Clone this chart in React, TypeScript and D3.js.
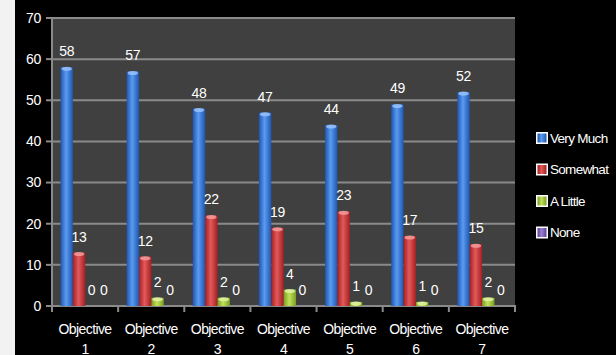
import React from "react";
import { scaleBand, scaleLinear } from "d3";

const categories = ["1", "2", "3", "4", "5", "6", "7"];
const seriesNames = ["Very Much", "Somewhat", "A Little", "None"];
const veryMuch = [58, 57, 48, 47, 44, 49, 52];
const somewhat = [13, 12, 22, 19, 23, 17, 15];
const aLittle = [0, 2, 2, 4, 1, 1, 2];
const none = [0, 0, 0, 0, 0, 0, 0];
const yTicks = [0, 10, 20, 30, 40, 50, 60, 70];

const seriesValues = [veryMuch, somewhat, aLittle, none];
const colors = [
  { edge: "#1d56b0", mid: "#5a9bf0", cap: "#9cc6ff" },
  { edge: "#a51f22", mid: "#e25a5a", cap: "#f7a0a0" },
  { edge: "#7a9e22", mid: "#c2e05c", cap: "#e4f5a8" },
  { edge: "#5e4496", mid: "#9a7ed2", cap: "#c9b8ee" },
];

const W = 616;
const H = 355;
const font = "'Liberation Sans', Arial, sans-serif";

export default function App() {
  const x = scaleBand().domain(categories).range([52, 515]);
  const xi = scaleBand().domain(seriesNames).range([8.5, 58]);
  const y = scaleLinear().domain([0, 70]).range([306, 18]);
  const bw = xi.bandwidth();

  return (
    <svg
      width={W}
      height={H}
      style={{ position: "absolute", left: 0, top: 0 }}
      fontFamily={font}
    >
      <defs>
        {colors.map((c, i) => (
          <linearGradient key={i} id={"g" + i} x1="0" x2="1" y1="0" y2="0">
            <stop offset="0" stopColor={c.edge} />
            <stop offset="0.45" stopColor={c.mid} />
            <stop offset="1" stopColor={c.edge} />
          </linearGradient>
        ))}
      </defs>
      <rect x={0} y={0} width={W} height={H} fill="#000" />
      <rect x={0} y={0} width={15} height={H} fill="#f2f2f2" />
      <rect x={52} y={18} width={463} height={288} fill="#404040" />

      {yTicks.map((t) => (
        <g key={t}>
          {t > 0 && (
            <line x1={52} x2={515} y1={y(t)} y2={y(t)} stroke="#8a8a8a" strokeWidth={2} />
          )}
          <line x1={46} x2={52} y1={y(t)} y2={y(t)} stroke="#8a8a8a" strokeWidth={2} />
          <text
            x={41}
            y={y(t)}
            dy="0.35em"
            textAnchor="end"
            fill="#fff"
            fontSize={14}
            letterSpacing={-0.3}
          >
            {t}
          </text>
        </g>
      ))}
      <line x1={52} x2={52} y1={18} y2={306} stroke="#8a8a8a" strokeWidth={2} />
      <line x1={46} x2={516} y1={306} y2={306} stroke="#8a8a8a" strokeWidth={2} />
      {categories.map((c, i) => (
        <line
          key={"t" + i}
          x1={x(c)}
          x2={x(c)}
          y1={306}
          y2={312}
          stroke="#8a8a8a"
          strokeWidth={2}
        />
      ))}
      <line x1={515} x2={515} y1={306} y2={312} stroke="#8a8a8a" strokeWidth={2} />

      {seriesValues.map((vals, s) =>
        vals.map((v, i) => {
          const bx = (x(categories[i]) as number) + (xi(seriesNames[s]) as number);
          const top = y(v);
          const h = y(0) - top;
          return (
            <g key={s + "-" + i}>
              {h > 0 && (
                <>
                  <rect x={bx} y={top} width={bw} height={h} fill={`url(#g${s})`} />
                  <ellipse
                    cx={bx + bw / 2}
                    cy={top + 1.5}
                    rx={bw / 2 - 1}
                    ry={2}
                    fill={colors[s].cap}
                    opacity={0.8}
                  />
                </>
              )}
              <text
                x={bx + bw / 2}
                y={top - 11}
                textAnchor="middle"
                fill="#fff"
                fontSize={14}
                letterSpacing={-0.3}
              >
                {v}
              </text>
            </g>
          );
        })
      )}

      {categories.map((c) => (
        <text
          key={"l" + c}
          x={(x(c) as number) + x.bandwidth() / 2}
          textAnchor="middle"
          fill="#fff"
          fontSize={14}
          letterSpacing={-0.6}
        >
          <tspan x={(x(c) as number) + x.bandwidth() / 2} y={334}>
            Objective
          </tspan>
          <tspan x={(x(c) as number) + x.bandwidth() / 2} y={354}>
            {c}
          </tspan>
        </text>
      ))}

      {seriesNames.map((n, i) => {
        const cy = 138 + i * 31.5;
        return (
          <g key={n}>
            <rect x={536} y={cy - 6} width={12} height={12} fill="#fff" />
            <rect x={537.5} y={cy - 4.5} width={9} height={9} fill={`url(#g${i})`} />
            <text
              x={550}
              y={cy}
              dy="0.35em"
              fill="#fff"
              fontSize={13.5}
              letterSpacing={-0.7}
            >
              {n}
            </text>
          </g>
        );
      })}
    </svg>
  );
}
